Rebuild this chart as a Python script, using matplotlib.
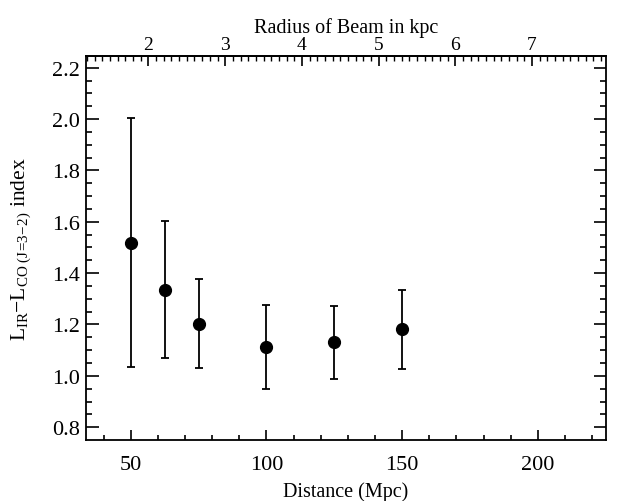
import matplotlib
matplotlib.use("Agg")
import matplotlib.pyplot as plt
from matplotlib.ticker import MultipleLocator
import numpy as np

plt.rcParams['font.family'] = ['Liberation Serif', 'DejaVu Serif']
plt.rcParams['mathtext.fontset'] = 'custom'
plt.rcParams['mathtext.rm'] = 'Liberation Serif'
plt.rcParams['mathtext.it'] = 'Liberation Serif:italic'

distance = [50, 62.5, 75, 100, 125, 150]
index_val = [1.519, 1.335, 1.201, 1.114, 1.130, 1.181]
err_upper = [2.003, 1.603, 1.377, 1.277, 1.273, 1.334]
err_lower = [1.035, 1.068, 1.029, 0.949, 0.987, 1.026]
kpc_per_mpc = 0.03537
top_ticks = [2, 3, 4, 5, 6, 7]

fig = plt.figure(figsize=(6.18, 5.02), dpi=100)
ax = fig.add_axes([0.139, 0.122, 0.841, 0.765])

y = np.array(index_val)
yerr = [y - np.array(err_lower), np.array(err_upper) - y]
ax.errorbar(distance, y, yerr=yerr, fmt='o', color='black', ms=8.5,
            ecolor='black', elinewidth=1.3, capsize=2.7, capthick=1.3)

ax.set_xlim(33.5, 225)
ax.set_ylim(0.751, 2.247)
ax.xaxis.set_major_locator(MultipleLocator(50))
ax.xaxis.set_minor_locator(MultipleLocator(10))
ax.yaxis.set_major_locator(MultipleLocator(0.2))
ax.yaxis.set_minor_locator(MultipleLocator(0.05))
ax.yaxis.set_major_formatter(matplotlib.ticker.FormatStrFormatter('%.1f'))
ax.tick_params(axis='both', which='both', direction='in', labelsize=16, width=1.2)
ax.tick_params(axis='x', which='major', length=7, top=False, pad=11)
ax.tick_params(axis='x', which='minor', length=3.5, top=False)
ax.tick_params(axis='y', which='major', length=9, right=True, pad=4)
ax.tick_params(axis='y', which='minor', length=4.5, right=True)
for s in ax.spines.values():
    s.set_linewidth(1.3)

ax.set_xlabel('Distance (Mpc)', fontsize=14.5, labelpad=5)
ax.set_ylabel(r'L$_{\mathrm{IR}}$$-$L$_{\mathrm{CO\ (J\!=\!3\!-\!2)}}$ index', fontsize=15.5)
ax.yaxis.set_label_coords(-0.102, 0.5)

sec = ax.secondary_xaxis('top', functions=(lambda d: d * kpc_per_mpc, lambda r: r / kpc_per_mpc))
sec.set_xticks(top_ticks)
sec.xaxis.set_minor_locator(MultipleLocator(0.1))
sec.tick_params(axis='x', which='major', direction='in', length=7, width=1.2, labelsize=14, pad=2)
sec.tick_params(axis='x', which='minor', direction='in', length=3.5, width=1.0)
sec.set_xlabel('Radius of Beam in kpc', fontsize=14.5, labelpad=3)
sec.spines['top'].set_linewidth(1.3)

fig.savefig('out.png', dpi=100)
